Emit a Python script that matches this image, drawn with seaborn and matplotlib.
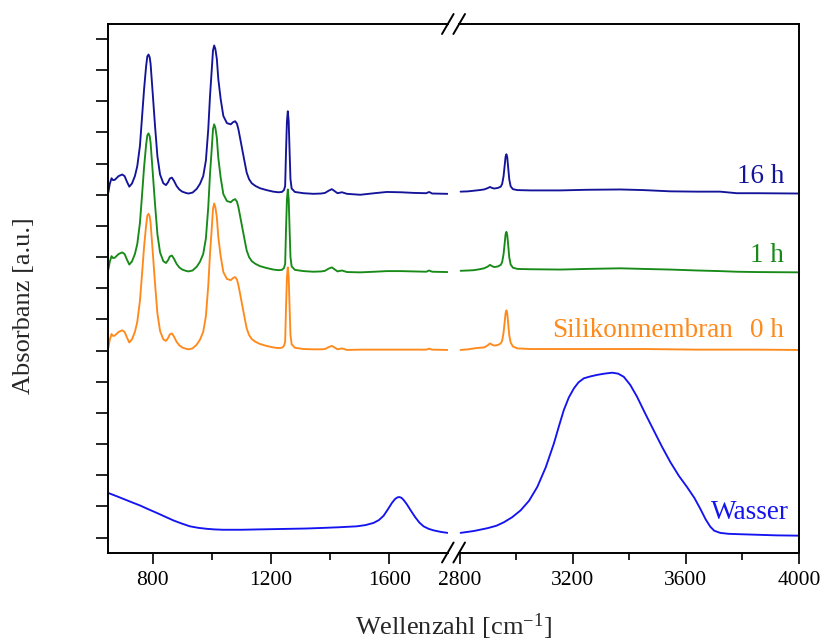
import numpy as np
import pandas as pd
import matplotlib
matplotlib.use("Agg")
import matplotlib.pyplot as plt
from matplotlib.lines import Line2D
import seaborn as sns

# ---------------- data ----------------
# silicone membrane spectra, low-wavenumber segment
wn_si_left = [650, 655, 661, 666, 672, 685, 697, 705, 713, 721, 730, 740, 748, 757, 764, 771,
              778, 782, 786, 790, 793, 800, 808, 816, 825, 836, 845, 852, 858, 865, 872, 881,
              890, 900, 912, 921, 935, 949, 960, 971, 980, 988, 994, 1000, 1004, 1008, 1012,
              1017, 1022, 1030, 1039, 1051, 1064, 1072, 1079, 1085, 1090, 1097, 1105, 1112,
              1118, 1126, 1135, 1148, 1163, 1185, 1208, 1225, 1237, 1244, 1248, 1251, 1254,
              1257, 1260, 1263, 1266, 1270, 1281, 1310, 1344, 1370, 1383, 1395, 1406, 1415,
              1425, 1440, 1457, 1502, 1550, 1592, 1640, 1682, 1725, 1735, 1745, 1797]
abs_16h_left = [11.07, 11.35, 11.53, 11.47, 11.48, 11.60, 11.65, 11.60, 11.42, 11.26, 11.36,
                11.60, 11.92, 12.57, 13.48, 14.39, 15.14, 15.44, 15.50, 15.41, 15.20, 14.28,
                13.21, 12.24, 11.65, 11.37, 11.31, 11.40, 11.52, 11.55, 11.45, 11.28, 11.17,
                11.10, 11.06, 11.04, 11.07, 11.19, 11.35, 11.60, 12.10, 13.10, 14.18, 15.04,
                15.63, 15.79, 15.68, 15.36, 14.71, 14.07, 13.53, 13.30, 13.26, 13.33, 13.36,
                13.28, 13.10, 12.75, 12.35, 12.00, 11.71, 11.50, 11.37, 11.28, 11.21, 11.15,
                11.10, 11.08, 11.09, 11.15, 11.28, 12.40, 13.35, 13.68, 13.35, 12.40, 11.50,
                11.20, 11.09, 11.05, 11.03, 11.04, 11.06, 11.13, 11.18, 11.12, 11.05, 11.08,
                11.03, 11.00, 11.05, 11.09, 11.08, 11.06, 11.05, 11.09, 11.04, 11.03]
abs_1h_left = [8.60, 8.85, 9.03, 8.97, 8.98, 9.10, 9.15, 9.10, 8.92, 8.76, 8.86, 9.10, 9.42,
               10.10, 10.98, 11.89, 12.62, 12.91, 12.97, 12.88, 12.67, 11.75, 10.70, 9.74,
               9.15, 8.87, 8.81, 8.90, 9.02, 9.05, 8.95, 8.78, 8.67, 8.60, 8.56, 8.54, 8.57,
               8.69, 8.85, 9.10, 9.60, 10.60, 11.68, 12.51, 13.10, 13.26, 13.15, 12.83, 12.18,
               11.55, 11.02, 10.80, 10.76, 10.83, 10.86, 10.78, 10.60, 10.25, 9.85, 9.50, 9.21,
               9.00, 8.87, 8.78, 8.71, 8.65, 8.60, 8.58, 8.59, 8.65, 8.78, 9.90, 10.85, 11.17,
               10.85, 9.90, 9.00, 8.70, 8.59, 8.55, 8.53, 8.54, 8.56, 8.63, 8.67, 8.61, 8.54,
               8.57, 8.52, 8.51, 8.53, 8.55, 8.55, 8.54, 8.53, 8.57, 8.53, 8.52]
abs_0h_left = [6.07, 6.35, 6.53, 6.47, 6.48, 6.60, 6.65, 6.60, 6.42, 6.26, 6.36, 6.60, 6.92,
               7.60, 8.45, 9.33, 10.03, 10.33, 10.39, 10.30, 10.10, 9.20, 8.15, 7.20, 6.63,
               6.36, 6.31, 6.40, 6.52, 6.55, 6.45, 6.28, 6.17, 6.10, 6.06, 6.04, 6.07, 6.19,
               6.35, 6.60, 7.10, 8.08, 9.12, 9.95, 10.55, 10.72, 10.60, 10.28, 9.64, 9.03,
               8.52, 8.30, 8.26, 8.33, 8.36, 8.28, 8.10, 7.75, 7.35, 7.00, 6.71, 6.50, 6.37,
               6.28, 6.21, 6.15, 6.10, 6.08, 6.09, 6.15, 6.28, 7.40, 8.35, 8.67, 8.35, 7.40,
               6.50, 6.20, 6.09, 6.05, 6.04, 6.04, 6.05, 6.11, 6.15, 6.10, 6.04, 6.07, 6.02,
               6.03, 6.03, 6.03, 6.03, 6.03, 6.03, 6.06, 6.03, 6.02]

# silicone membrane spectra, high-wavenumber segment
wn_si_right = [2803, 2830, 2850, 2870, 2886, 2898, 2907, 2914, 2922, 2935, 2945, 2950, 2955,
               2959, 2962, 2965, 2968, 2971, 2975, 2980, 2988, 3004, 3050, 3156, 3250, 3368,
               3450, 3545, 3640, 3721, 3780, 3850, 4000]
abs_16h_right = [11.10, 11.11, 11.13, 11.15, 11.17, 11.21, 11.25, 11.22, 11.20, 11.22, 11.26,
                 11.35, 11.60, 11.95, 12.22, 12.30, 12.20, 11.90, 11.50, 11.27, 11.18, 11.15,
                 11.14, 11.14, 11.16, 11.17, 11.15, 11.11, 11.10, 11.10, 11.05, 11.05, 11.04]
abs_1h_right = [8.56, 8.57, 8.58, 8.61, 8.64, 8.69, 8.75, 8.71, 8.68, 8.70, 8.75, 8.84, 9.10,
                9.45, 9.73, 9.81, 9.71, 9.42, 9.00, 8.76, 8.66, 8.62, 8.61, 8.60, 8.62, 8.64,
                8.62, 8.60, 8.57, 8.55, 8.53, 8.52, 8.51]
abs_0h_right = [6.02, 6.04, 6.07, 6.09, 6.10, 6.16, 6.23, 6.19, 6.16, 6.18, 6.23, 6.32, 6.58,
                6.93, 7.20, 7.29, 7.19, 6.90, 6.50, 6.26, 6.13, 6.07, 6.05, 6.05, 6.05, 6.05,
                6.05, 6.04, 6.03, 6.03, 6.03, 6.03, 6.02]

# water spectrum
wn_w_left = [650, 680, 701, 730, 757, 785, 814, 842, 870, 898, 926, 955, 983, 1010, 1039, 1100,
             1152, 1210, 1265, 1320, 1378, 1430, 1490, 1520, 1547, 1565, 1581, 1595, 1609,
             1620, 1628, 1635, 1642, 1650, 1660, 1674, 1688, 1702, 1716, 1733, 1750, 1775, 1797]
abs_w_left = [1.43, 1.32, 1.24, 1.13, 1.03, 0.91, 0.79, 0.67, 0.55, 0.45, 0.36, 0.31, 0.28,
              0.26, 0.25, 0.25, 0.26, 0.27, 0.28, 0.29, 0.31, 0.33, 0.36, 0.40, 0.47, 0.56,
              0.70, 0.90, 1.11, 1.24, 1.29, 1.30, 1.27, 1.19, 1.06, 0.85, 0.65, 0.48, 0.36,
              0.28, 0.23, 0.18, 0.15]
wn_w_right = [2803, 2850, 2898, 2930, 2956, 2985, 3015, 3045, 3074, 3104, 3133, 3150, 3168,
              3186, 3204, 3220, 3239, 3262, 3286, 3312, 3339, 3360, 3380, 3403, 3427, 3456,
              3486, 3515, 3545, 3575, 3604, 3630, 3651, 3670, 3686, 3700, 3721, 3750, 3780,
              3850, 3920, 4000]
abs_w_right = [0.15, 0.21, 0.30, 0.38, 0.49, 0.65, 0.87, 1.18, 1.62, 2.25, 3.02, 3.55, 4.09,
               4.50, 4.79, 4.98, 5.11, 5.17, 5.22, 5.26, 5.29, 5.26, 5.16, 4.90, 4.52, 3.98,
               3.44, 2.92, 2.42, 1.98, 1.62, 1.27, 0.92, 0.58, 0.35, 0.22, 0.15, 0.12, 0.11,
               0.09, 0.07, 0.06]

series_names = ["16 h", "1 h", "0 h", "Wasser"]
colors = {"16 h": "#14149a", "1 h": "#178a17", "0 h": "#ff8a1c", "Wasser": "#1414f0"}

left_tick_major = [800, 1200, 1600]
left_tick_minor = [1000, 1400]
right_tick_major = [2800, 3200, 3600, 4000]
right_tick_minor = [3000, 3400, 3800]
y_ticks = list(range(0, 17))

# ---------------- tables ----------------
df_left = pd.concat([
    pd.DataFrame({"wn": wn_si_left, "A": abs_16h_left, "s": "16 h"}),
    pd.DataFrame({"wn": wn_si_left, "A": abs_1h_left, "s": "1 h"}),
    pd.DataFrame({"wn": wn_si_left, "A": abs_0h_left, "s": "0 h"}),
    pd.DataFrame({"wn": wn_w_left, "A": abs_w_left, "s": "Wasser"}),
], ignore_index=True)
df_right = pd.concat([
    pd.DataFrame({"wn": wn_si_right, "A": abs_16h_right, "s": "16 h"}),
    pd.DataFrame({"wn": wn_si_right, "A": abs_1h_right, "s": "1 h"}),
    pd.DataFrame({"wn": wn_si_right, "A": abs_0h_right, "s": "0 h"}),
    pd.DataFrame({"wn": wn_w_right, "A": abs_w_right, "s": "Wasser"}),
], ignore_index=True)

# ---------------- style ----------------
sns.set_theme(style="ticks")
plt.rcParams["font.family"] = ["Liberation Serif", "DejaVu Serif"]
plt.rcParams["mathtext.fontset"] = "custom"
plt.rcParams["mathtext.rm"] = "Liberation Serif"
plt.rcParams["mathtext.it"] = "Liberation Serif:italic"
plt.rcParams["axes.linewidth"] = 1.4
plt.rcParams["lines.solid_joinstyle"] = "round"

W, H = 821, 641
fig = plt.figure(figsize=(W / 100, H / 100), dpi=100)

ax_top_px, ax_bot_px = 24, 552.5
axL_l, axL_r = 108.3, 447.8
axR_l, axR_r = 459.2, 799
y0 = (H - ax_bot_px) / H
hgt = (ax_bot_px - ax_top_px) / H
axL = fig.add_axes([axL_l / W, y0, (axL_r - axL_l) / W, hgt])
axR = fig.add_axes([axR_l / W, y0, (axR_r - axR_l) / W, hgt])

for ax, df in ((axL, df_left), (axR, df_right)):
    for name in series_names:
        sub = df[df["s"] == name]
        sns.lineplot(data=sub, x="wn", y="A", ax=ax, color=colors[name], linewidth=1.35,
                     sort=False, estimator=None, legend=False)
    ax.set_xlabel("")
    ax.set_ylabel("")
    ax.set_ylim(-0.48, 16.48)
    for sp in ax.spines.values():
        sp.set_color("black")
        sp.set_linewidth(1.4)

axL.set_xlim(650, 1798)
axR.set_xlim(2798, 4000)

axL.spines["right"].set_visible(False)
axR.spines["left"].set_visible(False)

axL.set_xticks(left_tick_major)
axL.set_xticks(left_tick_minor, minor=True)
axR.set_xticks(right_tick_major)
axR.set_xticks(right_tick_minor, minor=True)

axL.set_yticks(y_ticks)
axL.set_yticklabels([])
axR.set_yticks([])

for ax in (axL, axR):
    ax.tick_params(axis="x", which="major", direction="out", length=8, width=1.2,
                   labelsize=15.5, pad=5.5, colors="black", labelcolor="black")
    ax.tick_params(axis="x", which="minor", direction="out", length=4.8, width=1.2,
                   colors="black")
    ax.tick_params(axis="y", which="both", direction="out", length=8.3, width=1.2,
                   colors="black")
    ax.tick_params(top=False, right=False)
axR.tick_params(axis="y", left=False, right=False, labelleft=False)

# series labels
axR.text(3947, 11.37, "16 h", color=colors["16 h"], fontsize=19.5, ha="right", va="baseline")
axR.text(3947, 8.85, "1 h", color=colors["1 h"], fontsize=19.5, ha="right", va="baseline")
axR.text(3947, 6.44, "0 h", color=colors["0 h"], fontsize=19.5, ha="right", va="baseline")
axR.text(3767, 6.44, "Silikonmembran", color=colors["0 h"], fontsize=19.5, ha="right",
         va="baseline")
axR.text(3964, 0.58, "Wasser", color=colors["Wasser"], fontsize=19.5, ha="right",
         va="baseline")

# axis labels
fig.text(453.5 / W, (H - 635) / H, "Wellenzahl [cm$^{-1}$]", fontsize=19, ha="center",
         va="baseline")
fig.text(24 / W, (H - 306) / H, "Absorbanz [a.u.]", fontsize=19, rotation=90, ha="center",
         va="center")

# axis break marks
def slash(cx, cy):
    x0, x1 = (cx - 5.8) / W, (cx + 5.8) / W
    ya, yb = (H - (cy + 10)) / H, (H - (cy - 10)) / H
    fig.add_artist(Line2D([x0, x1], [ya, yb], transform=fig.transFigure, color="black",
                          linewidth=1.4, clip_on=False))

for cy in (ax_top_px, ax_bot_px):
    slash(axL_r, cy)
    slash(axR_l, cy)

fig.savefig("out.png", dpi=100)
